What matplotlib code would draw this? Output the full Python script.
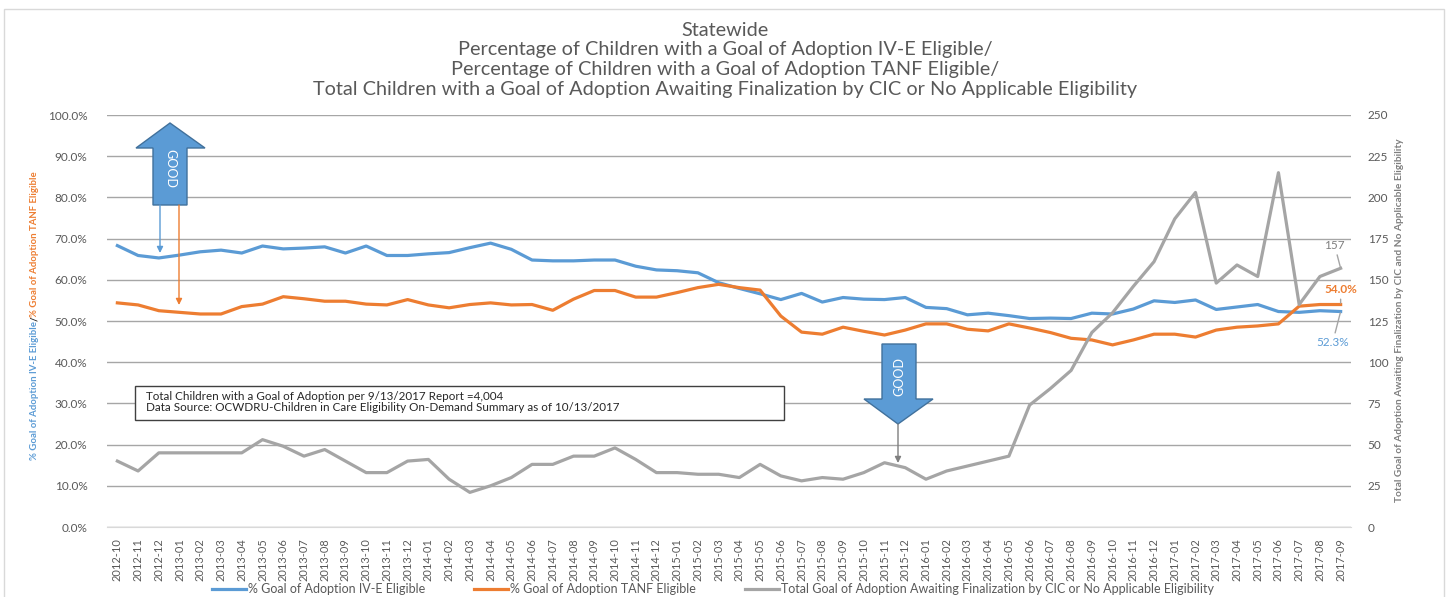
import matplotlib
matplotlib.use("Agg")
import matplotlib.pyplot as plt
from matplotlib.patches import Polygon, Rectangle, FancyArrowPatch
from matplotlib.ticker import PercentFormatter, MultipleLocator

# ---------------------------------------------------------------- data
months = [f"{y}-{m:02d}" for y in range(2012, 2018) for m in range(1, 13)][9:69]

ive_pct = [68.3, 65.9, 65.3, 66.0, 66.8, 67.2, 66.5, 68.2, 67.5, 67.7,
           68.0, 66.5, 68.2, 65.9, 65.9, 66.3, 66.6, 67.8, 68.9, 67.4,
           64.8, 64.6, 64.6, 64.8, 64.8, 63.3, 62.4, 62.2, 61.7, 59.3,
           57.9, 56.6, 55.2, 56.7, 54.6, 55.7, 55.3, 55.2, 55.7, 53.3,
           53.0, 51.5, 51.9, 51.3, 50.6, 50.7, 50.6, 51.9, 51.7, 52.9,
           54.9, 54.5, 55.1, 52.8, 53.4, 54.0, 52.3, 52.1, 52.5, 52.3]

tanf_pct = [54.4, 53.9, 52.5, 52.1, 51.7, 51.7, 53.5, 54.1, 55.9, 55.4,
            54.8, 54.8, 54.1, 53.9, 55.2, 53.9, 53.2, 54.0, 54.4, 53.9,
            54.0, 52.6, 55.3, 57.4, 57.4, 55.8, 55.8, 56.9, 58.1, 58.9,
            58.1, 57.5, 51.2, 47.3, 46.8, 48.5, 47.5, 46.6, 47.8, 49.3,
            49.3, 48.0, 47.6, 49.3, 48.3, 47.2, 45.8, 45.4, 44.2, 45.4,
            46.8, 46.8, 46.1, 47.8, 48.5, 48.8, 49.3, 53.6, 54.0, 54.0]

awaiting_total = [40, 34, 45, 45, 45, 45, 45, 53, 49, 43,
                  47, 40, 33, 33, 40, 41, 29, 21, 25, 30,
                  38, 38, 43, 43, 48, 41, 33, 33, 32, 32,
                  30, 38, 31, 28, 30, 29, 33, 39, 36, 29,
                  34, 37, 40, 43, 74, 84, 95, 118, 130, 146,
                  161, 187, 203, 148, 159, 152, 215, 135, 152, 157]

series_names = ["% Goal of Adoption IV-E Eligible",
                "% Goal of Adoption TANF Eligible",
                "Total Goal of Adoption Awaiting Finalization by CIC or No Applicable Eligibility"]

title_lines = ["Statewide",
               "Percentage of Children with a Goal of Adoption IV-E Eligible/",
               "Percentage of Children with a Goal of Adoption TANF Eligible/",
               "Total Children with a Goal of Adoption Awaiting Finalization by CIC or No Applicable Eligibility"]

note_lines = ["Total Children with a Goal of Adoption per 9/13/2017 Report =4,004",
              "Data Source: OCWDRU-Children in Care Eligibility On-Demand Summary as of 10/13/2017"]

# ---------------------------------------------------------------- style
BLUE = "#5B9BD5"
ORANGE = "#ED7D31"
GRAY = "#A5A5A5"
TXT = "#595959"
GRID = "#A6A6A6"

plt.rcParams["font.family"] = ["Lato", "DejaVu Sans"]

W, H, DPI = 1450, 597, 100
fig = plt.figure(figsize=(W / DPI, H / DPI), dpi=DPI)


def px(x, y):
    """pixel position (from top-left) -> figure fraction"""
    return (x / W, 1 - y / H)


# chart frame
fig.add_artist(Rectangle(px(4, 600), 1440 / W, 591 / H, transform=fig.transFigure,
                         fill=False, edgecolor="#D9D9D9", lw=1))

L, R, T, B = 107, 1351, 115, 527
ax = fig.add_axes([L / W, 1 - B / H, (R - L) / W, (B - T) / H])
ax2 = ax.twinx()

x = list(range(len(months)))
l1, = ax.plot(x, ive_pct, color=BLUE, lw=2.3, solid_joinstyle="round")
l2, = ax.plot(x, tanf_pct, color=ORANGE, lw=2.3, solid_joinstyle="round")
l3, = ax2.plot(x, awaiting_total, color=GRAY, lw=2.3, solid_joinstyle="round")

ax.set_xlim(-0.5, len(months) - 0.5)
ax.set_ylim(0, 100)
ax2.set_ylim(0, 250)
ax.yaxis.set_major_locator(MultipleLocator(10))
ax.yaxis.set_major_formatter(PercentFormatter(100, decimals=1))
ax2.yaxis.set_major_locator(MultipleLocator(25))
ax.set_xticks(x)
ax.set_xticklabels(months, rotation=90)

ax.yaxis.grid(True, color=GRID, lw=1)
ax.set_axisbelow(True)
for a in (ax, ax2):
    for s in a.spines.values():
        s.set_visible(False)
ax.spines["bottom"].set_visible(True)
ax.spines["bottom"].set_color("#D9D9D9")
ax.tick_params(axis="y", length=0, pad=14, labelsize=8.5, labelcolor=TXT)
ax.tick_params(axis="x", length=0, pad=8, labelsize=7.9, labelcolor=TXT)
ax2.tick_params(axis="y", length=0, pad=12, labelsize=8.5, labelcolor=TXT)

# end-of-series value labels
lead = dict(arrowstyle="-", color=GRAY, lw=1, shrinkA=1, shrinkB=1)
n = len(months) - 1
ax2.annotate(f"{awaiting_total[-1]}", xy=(n, awaiting_total[-1]), xytext=(-6, 23),
             textcoords="offset pixels", ha="center", va="center",
             fontsize=8.5, color="#7F7F7F", arrowprops=lead)
ax.annotate(f"{tanf_pct[-1]:.1f}%", xy=(n, tanf_pct[-1]), xytext=(0, 15),
            textcoords="offset pixels", ha="center", va="center",
            fontsize=8.5, color=ORANGE, fontweight="bold", arrowprops=lead)
ax.annotate(f"{ive_pct[-1]:.1f}%", xy=(n, ive_pct[-1]), xytext=(-8, -31),
            textcoords="offset pixels", ha="center", va="center",
            fontsize=8.5, color=BLUE, arrowprops=lead)

# title
for i, line in enumerate(title_lines):
    fig.text(*px(725, 30 + 19.7 * i), line, ha="center", va="center",
             fontsize=14.3, color=TXT)

# note box
fig.add_artist(Rectangle(px(135, 420), (784 - 135) / W, (420 - 386) / H,
                         transform=fig.transFigure, facecolor="white",
                         edgecolor="#404040", lw=1, zorder=5))
for i, line in enumerate(note_lines):
    fig.text(*px(146, 396 + 11.7 * i), line, ha="left", va="center",
             fontsize=8.4, color="#262626", zorder=6)

# "GOOD" block arrows
up_pts = [(170, 123), (205, 148), (187, 148), (187, 205), (153, 205), (153, 148), (136, 148)]
down_pts = [(882, 344), (916, 344), (916, 399), (933, 399), (898, 424), (864, 399), (882, 399)]
for pts in (up_pts, down_pts):
    fig.add_artist(Polygon([px(a, b) for a, b in pts], closed=True,
                           transform=fig.transFigure, facecolor=BLUE,
                           edgecolor="#41719C", lw=1, zorder=6))
fig.text(*px(170, 169), "GOOD", rotation=-90, ha="center", va="center",
         color="white", fontsize=9, zorder=7)
fig.text(*px(899, 376), "GOOD", rotation=90, ha="center", va="center",
         color="white", fontsize=9, zorder=7)

# pointer arrows from the block arrows to the series
for (x0, y0, x1, y1, c) in [(160, 205, 160, 253, BLUE),
                            (179, 205, 179, 305, ORANGE),
                            (898, 424, 898, 463, "#7F7F7F")]:
    fig.add_artist(FancyArrowPatch(px(x0, y0), px(x1, y1), transform=fig.transFigure,
                                   arrowstyle="-|>", mutation_scale=9, color=c,
                                   lw=1, shrinkA=0, shrinkB=0, zorder=6))

# left axis title in two colours
fig.canvas.draw()
renderer = fig.canvas.get_renderer()
ypos = 1 - 460 / H
for txt, col in [(series_names[0], BLUE), ("/", "#262626"), (series_names[1], ORANGE)]:
    t = fig.text(35 / W, ypos, txt, rotation=90, ha="center", va="bottom",
                 fontsize=6.9, fontweight="bold", color=col)
    bb = t.get_window_extent(renderer)
    ypos = bb.y1 / (H * fig.dpi / DPI)

# right axis title
fig.text(*px(1399, 320), "Total Goal of Adoption Awaiting Finalization by CIC and No Applicable Eligibility",
         rotation=90, ha="center", va="center", fontsize=7.3, fontweight="bold",
         color="#7F7F7F")

# legend
fig.legend([l1, l2, l3], series_names, loc="center", bbox_to_anchor=(713 / W, 1 - 589 / H),
           ncol=3, frameon=False, fontsize=9.0, labelcolor=TXT, handlelength=2.7,
           handletextpad=0.2, columnspacing=3.9, borderaxespad=0)

fig.savefig("out.png", dpi=DPI, facecolor="white")
